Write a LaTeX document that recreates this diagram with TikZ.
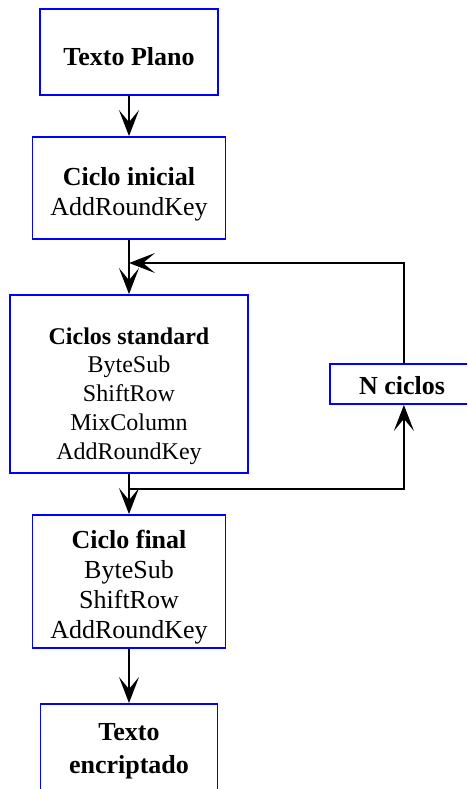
\documentclass[tikz,border=0pt]{standalone}
\usepackage{fontspec}
\setmainfont{Liberation Serif}
\usetikzlibrary{arrows.meta}
\begin{document}
\begin{tikzpicture}[x=1pt,y=-1pt,
  box/.style={draw=blue, line width=1.8pt, fill=white, inner sep=0pt},
  txt/.style={align=center, inner sep=0pt, font=\fontsize{26}{30}\selectfont},
  conn/.style={line width=1.6pt, -{Stealth[length=26pt,width=20pt,inset=12pt]}}]
\useasboundingbox (0,0) rectangle (467,789);
\clip (0,0) rectangle (467,789);
\node[box, minimum width=178pt, minimum height=86pt] (tp) at (129,52) {};
\node[txt] (tp-t) at (129,57) {\textbf{Texto Plano}};
\node[box, minimum width=193pt, minimum height=102pt] (ci) at (129,188) {};
\node[txt] (ci-t) at (129,194) {\textbf{Ciclo inicial}\\AddRoundKey};
\node[box, minimum width=238pt, minimum height=178pt] (cs) at (129,384) {};
\node[txt, font=\fontsize{24}{28.75}\selectfont] (cs-t) at (129,396)
  {\textbf{Ciclos standard}\\ByteSub\\ShiftRow\\MixColumn\\AddRoundKey};
\node[box, minimum width=148pt, minimum height=40pt, anchor=west] (nc) at (329,384) {};
\node[txt] (nc-t) at (402,386) {\textbf{N ciclos}};
\node[box, minimum width=193pt, minimum height=133pt] (cf) at (129,581.5) {};
\node[txt] (cf-t) at (129,587) {\textbf{Ciclo final}\\ByteSub\\ShiftRow\\AddRoundKey};
\node[box, minimum width=177pt, minimum height=98pt, anchor=north] (te) at (129,703) {};
\node[txt, font=\fontsize{26}{33}\selectfont] (te-t) at (129,751) {\textbf{Texto}\\\textbf{encriptado}};
\coordinate (j1) at (129,263);
\coordinate (j2) at (129,489);
\draw[conn] (tp.south) -- (ci.north);
\draw[conn] (ci.south) -- (cs.north);
\draw[conn] (nc.north) |- (j1);
\draw[conn] (cs.south) -- (cf.north);
\draw[conn] (j2) -| (nc.south);
\draw[conn] (cf.south) -- (te.north);
\end{tikzpicture}
\end{document}
